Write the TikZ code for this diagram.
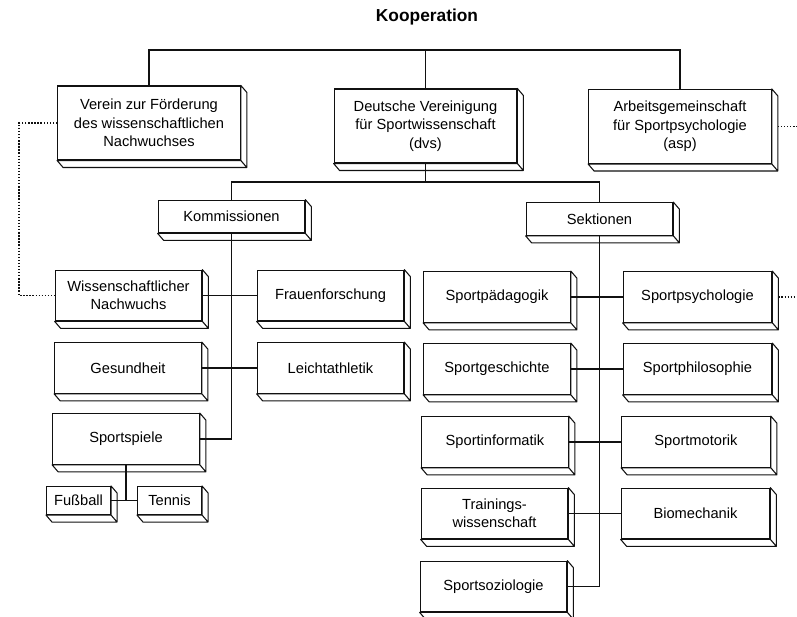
\documentclass[tikz,border=0pt]{standalone}
\usepackage{fontspec}
\setmainfont{Liberation Sans}
\definecolor{ink}{HTML}{111111}
\tikzset{
  blk/.style={rectangle, draw=ink, fill=white, line width=0.8pt, align=center, inner sep=2pt,
              font=\fontsize{11}{13.75}\selectfont,
              append after command={\pgfextra{%
                \draw[draw=ink, fill=white, line width=0.8pt, line join=round]
                  (\tikzlastnode.north east) -- ([shift={(6,7)}]\tikzlastnode.north east)
                  -- ([shift={(6,7)}]\tikzlastnode.south east) -- ([shift={(6,7)}]\tikzlastnode.south west)
                  -- (\tikzlastnode.south west) -- (\tikzlastnode.south east) -- cycle
                  (\tikzlastnode.south east) -- ([shift={(6,7)}]\tikzlastnode.south east);}}},
  orgbox/.style={blk, minimum width=137pt, minimum height=55.5pt},
  headbox/.style={blk, minimum width=110pt, minimum height=24.5pt},
  unitbox/.style={blk, minimum width=110pt, minimum height=38pt},
  wunitbox/.style={blk, minimum width=111.5pt, minimum height=38pt},
  subbox/.style={blk, minimum width=48pt, minimum height=21pt},
  ln/.style={draw=ink, line width=0.8pt},
  dl/.style={draw=ink, line width=1pt, dash pattern=on 1pt off 1.3pt},
}
\begin{document}
\begin{tikzpicture}[x=0.75pt, y=-0.75pt]
\useasboundingbox (0,0) rectangle (797,617);
\node[font=\fontsize{13}{15}\selectfont\bfseries] (title) at (427,17) {Kooperation};

\node[orgbox] (verein) at (149,123) {Verein zur Förderung\\des wissenschaftlichen\\Nachwuchses};
\node[orgbox] (dvs) at (425.5,126) {Deutsche Vereinigung\\für Sportwissenschaft\\(dvs)};
\node[orgbox] (asp) at (680,126.5) {Arbeitsgemeinschaft\\für Sportpsychologie\\(asp)};

\node[headbox] (kom) at (231.5,216.5) {Kommissionen};
\node[headbox] (sek) at (599.5,219) {Sektionen};

% Kommissionen
\node[unitbox] (wiss) at (128.5,295.5) {Wissenschaftlicher\\Nachwuchs};
\node[unitbox] (frauen) at (330.5,295.5) {Frauenforschung};
\node[unitbox] (gesund) at (128,368) {Gesundheit};
\node[unitbox] (leicht) at (330.5,368) {Leichtathletik};
\node[unitbox] (spiele) at (126,439) {Sportspiele};
\node[subbox] (fuss) at (78.5,500.5) {Fußball};
\node[subbox] (tennis) at (169.5,500.5) {Tennis};

% Sektionen
\node[unitbox] (paed) at (497,297) {Sportpädagogik};
\node[wunitbox] (psych) at (697.5,297) {Sportpsychologie};
\node[unitbox] (gesch) at (497,369) {Sportgeschichte};
\node[wunitbox] (philo) at (697.5,369) {Sportphilosophie};
\node[unitbox] (info) at (495,442) {Sportinformatik};
\node[wunitbox] (motorik) at (696,442) {Sportmotorik};
\node[unitbox] (train) at (494.5,513.5) {Trainings-\\wissenschaft};
\node[wunitbox] (bio) at (695.5,513.5) {Biomechanik};
\node[unitbox] (sozio) at (493.5,586.5) {Sportsoziologie};

\coordinate (coop) at (425.5,50);
\coordinate (split) at (425.5,182);
\coordinate (rim) at (797,0);

\draw[ln] (verein.north) |- (coop) -| (asp.north);
\draw[ln] (coop) -- (dvs.north);
\draw[ln] (dvs.south) -- (split);
\draw[ln] (kom.north) |- (split) -| (sek.north);

\draw[ln] (kom.south) |- (spiele.east);
\draw[ln] (wiss.east) -- (frauen.west);
\draw[ln] (gesund.east) -- (leicht.west);
\draw[ln] (spiele.south) -- (spiele.south |- fuss.east);
\draw[ln] (fuss.east) -- (tennis.west);

\draw[ln] (sek.south) |- (sozio.east);
\draw[ln] (paed.east) -- (psych.west);
\draw[ln] (gesch.east) -- (philo.west);
\draw[ln] (info.east) -- (motorik.west);
\draw[ln] (train.east) -- (bio.west);

% dotted links
\draw[dl] (verein.west) -- ++(-38,0) |- (wiss.west);
\draw[dl] ([xshift=4.5pt]asp.east) -- (asp.east -| rim);
\draw[dl] ([xshift=4.5pt]psych.east) -- (psych.east -| rim);
\end{tikzpicture}
\end{document}
